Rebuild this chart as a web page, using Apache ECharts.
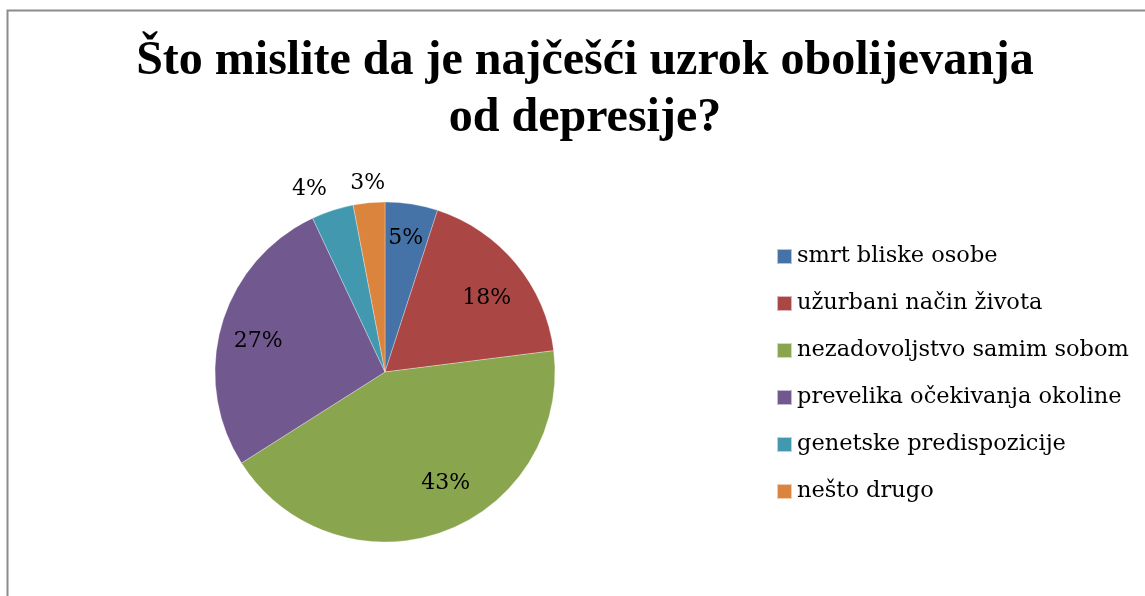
<!DOCTYPE html>
<html>
<head>
<meta charset="utf-8">
<script src="https://cdn.jsdelivr.net/npm/echarts@6/dist/echarts.min.js"></script>
<style>
  html, body { margin: 0; padding: 0; background: #fff; }
  #chart { width: 1145px; height: 596px; }
</style>
</head>
<body>
<div id="chart"></div>
<script>
// podaci
var categories = ['smrt bliske osobe', 'užurbani način života', 'nezadovoljstvo samim sobom',
    'prevelika očekivanja okoline', 'genetske predispozicije', 'nešto drugo'];
var percents = [5, 18, 43, 27, 4, 3];
var colors = ['#4572A7', '#AA4643', '#89A54E', '#71588F', '#4198AF', '#DB843D'];
// pomaci natpisa (samo izgled)
var labelPos = ['inside', 'inside', 'inside', 'inside', 'outside', 'outside'];
var labelShift = [[0, -3], [0, 10], [16, -13], [0, 6], [2, -13], [22, -12]];

var serif = '"DejaVu Serif", serif';

var pieData = [];
var labelData = [];
for (var i = 0; i < categories.length; i++) {
    pieData.push({name: categories[i], value: percents[i], itemStyle: {color: colors[i]}});
    labelData.push({
        name: categories[i],
        value: percents[i],
        label: {position: labelPos[i], offset: labelShift[i]}
    });
}

var chart = echarts.init(document.getElementById('chart'));
chart.setOption({
    animation: false,
    title: {
        text: 'Što mislite da je najčešći uzrok obolijevanja\nod depresije?',
        left: 580,
        top: 28,
        textAlign: 'center',
        textStyle: {
            fontFamily: '"Liberation Serif", "Times New Roman", serif',
            fontWeight: 'bold',
            fontSize: 48,
            lineHeight: 57,
            color: '#000'
        }
    },
    legend: {
        orient: 'vertical',
        left: 771,
        top: 240,
        itemWidth: 15,
        itemHeight: 15,
        itemGap: 24,
        icon: 'rect',
        data: categories,
        textStyle: {fontFamily: serif, fontSize: 22.5, color: '#000'}
    },
    graphic: [{
        type: 'rect',
        shape: {x: 7.5, y: 10.5, width: 1150, height: 600},
        style: {fill: null, stroke: '#8c8c8c', lineWidth: 2},
        silent: true
    }],
    series: [{
        type: 'pie',
        center: [385, 372],
        radius: 170,
        startAngle: 90,
        clockwise: true,
        label: {show: false},
        labelLine: {show: false},
        itemStyle: {borderColor: 'rgba(255,255,255,0.6)', borderWidth: 0.5},
        data: pieData
    }, {
        type: 'pie',
        center: [385, 372],
        radius: [88, 170],
        startAngle: 90,
        clockwise: true,
        silent: true,
        avoidLabelOverlap: false,
        itemStyle: {color: 'rgba(0,0,0,0)'},
        label: {
            show: true,
            formatter: '{c}%',
            fontFamily: serif,
            fontSize: 22,
            color: '#000'
        },
        labelLine: {show: false, length: 8, length2: 0},
        data: labelData
    }]
});
</script>
</body>
</html>
